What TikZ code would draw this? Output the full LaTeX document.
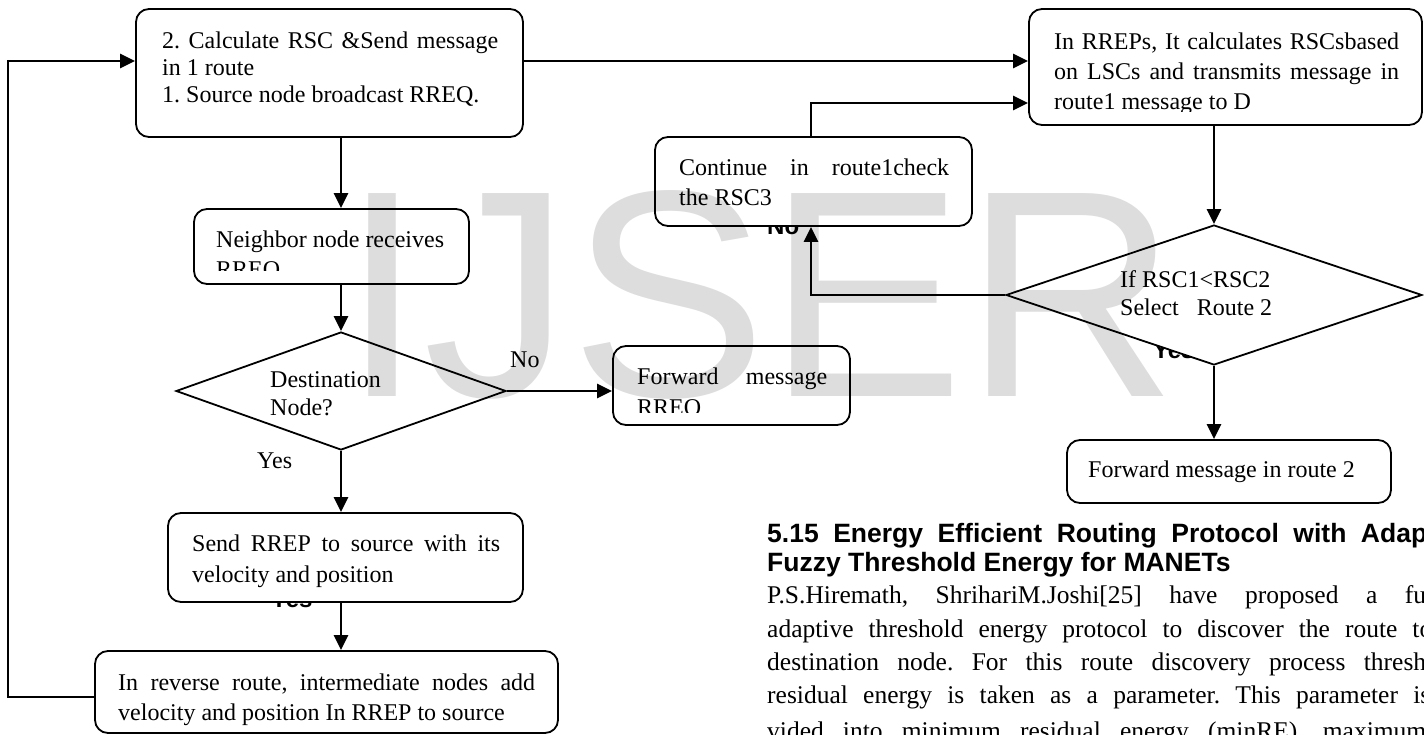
\documentclass[tikz,border=0pt]{standalone}
\usepackage{fontspec}
\setmainfont{Liberation Serif}
\newfontfamily\hsans{Liberation Sans}
\usetikzlibrary{arrows.meta,shapes.geometric}
\frenchspacing
\tikzset{
  box/.style={draw, line width=1.8pt, rounded corners=13pt, fill=white, inner sep=0pt, rectangle},
  dia/.style={draw, line width=1.8pt, fill=white, diamond, inner sep=0pt},
  conn/.style={line width=2.4pt, -{Triangle[length=15pt,width=14pt]}},
  txt/.style={anchor=base west, inner sep=0pt, font=\fontsize{24pt}{30pt}\selectfont},
  hid/.style={anchor=base west, inner sep=0pt, font=\hsans\bfseries\fontsize{24pt}{30pt}\selectfont},
  head/.style={anchor=base west, inner sep=0pt, font=\hsans\bfseries\fontsize{26.5pt}{32pt}\selectfont},
  para/.style={anchor=base west, inner sep=0pt, font=\fontsize{25.5pt}{33pt}\selectfont},
}
\begin{document}
\begin{tikzpicture}[x=1pt,y=-1pt]
\useasboundingbox (0,0) rectangle (1424,735);
\fill[white] (0,0) rectangle (1424,735);

% labels partly hidden behind shapes
\node[hid] (hn) at (767,235) {No};
\node[hid] (hy1) at (271,607) {Yes};
\node[hid] (hy2) at (1153,358) {Yes};

% boxes
\node[box, minimum width=387pt, minimum height=128pt] (A) at (329.5,73) {};
\node[box, minimum width=275pt, minimum height=75pt] (N) at (331.5,246.5) {};
\node[box, minimum width=237pt, minimum height=79pt] (F) at (731.5,385.5) {};
\node[box, minimum width=355pt, minimum height=89pt] (S) at (345.5,557.5) {};
\node[box, minimum width=463pt, minimum height=82pt] (Bot) at (326.5,692) {};
\node[box, minimum width=393pt, minimum height=116pt] (B) at (1225.5,67) {};
\node[box, minimum width=317pt, minimum height=89pt] (C) at (813.5,181.5) {};
\node[box, minimum width=324pt, minimum height=63pt] (R2) at (1229,471.5) {};
\node[dia, minimum width=330pt, minimum height=118pt] (D1) at (341,391) {};
\node[dia, minimum width=416pt, minimum height=140pt] (D2) at (1214,295) {};

% helper coordinates
\coordinate (ya) at (0,61);
\coordinate (yb) at (0,103);
\coordinate (fbL) at (8,697);
\coordinate (cx) at (811,0);

% connectors
\draw[conn] (Bot.west |- fbL) -- (fbL) |- (A.west |- ya);
\draw[conn] (A.east |- ya) -- (B.west |- ya);
\draw[conn] (A.south -| D1.north) -- (N.north -| D1.north);
\draw[conn] (N.south -| D1.north) -- (D1.north);
\draw[conn] (D1.east) -- (F.west |- D1.east);
\draw[conn] (D1.south) -- (S.north -| D1.south);
\draw[conn] (S.south -| D1.south) -- (Bot.north -| D1.south);
\draw[conn] (B.south -| D2.north) -- (D2.north);
\draw[conn] (D2.west) -| (C.south -| cx);
\draw[conn] (C.north -| cx) |- (B.west |- yb);
\draw[conn] (D2.south) -- (R2.north -| D2.south);

% texts
\node[txt] (a1) at (162,49) {\makebox[336pt][s]{2. Calculate RSC \&Send message}};
\node[txt] (a2) at (162,76) {in 1 route};
\node[txt] (a3) at (162,103) {1. Source node broadcast RREQ.};

\node[txt] (n1) at (216,248) {Neighbor node receives};
\begin{scope}
  \clip (194,209) rectangle (469,271);
  \node[txt] (n2) at (216,278) {RREQ};
\end{scope}

\node[txt] (d1a) at (270,387) {Destination};
\node[txt] (d1b) at (270,415) {Node?};
\node[txt] (lno) at (510,367) {No};
\node[txt] (lyes) at (257,468) {Yes};

\node[txt] (f1) at (637,384) {\makebox[190pt][s]{Forward message}};
\begin{scope}
  \clip (613,346) rectangle (850,412);
  \node[txt] (f2) at (637,415) {RREQ};
\end{scope}

\node[txt] (s1) at (192,551) {\makebox[308pt][s]{Send RREP to source with its}};
\node[txt] (s2) at (192,582) {velocity and position};

\node[txt] (b1) at (118,690) {\makebox[417pt][s]{In reverse route, intermediate nodes add}};
\node[txt] (b2) at (118,720) {velocity and position In RREP to source};

\node[txt] (bb1) at (1054,50) {\makebox[345pt][s]{In RREPs, It calculates RSCsbased}};
\node[txt] (bb2) at (1054,80) {\makebox[345pt][s]{on LSCs and transmits message in}};
\begin{scope}
  \clip (1029,9) rectangle (1422,112);
  \node[txt] (bb3) at (1054,110) {route1 message to D};
\end{scope}

\node[txt] (c1) at (679,176) {\makebox[270pt][s]{Continue in route1check}};
\node[txt] (c2) at (679,206) {the RSC3};

\node[txt] (d2a) at (1120,288) {If RSC1<RSC2};
\node[txt] (d2b) at (1120,316) {Select~~~Route 2};

\node[txt] (r2t) at (1088,477) {Forward message in route 2};

% page text beside the figure
\begin{scope}
  \clip (0,0) rectangle (1424,735);
  \node[head] (h1) at (767,542) {\makebox[660pt][s]{5.15 Energy Efficient Routing Protocol with Adap}};
  \node[head] (h2) at (767,571) {Fuzzy Threshold Energy for MANETs};
  \node[para] (p1) at (767,603) {\makebox[659pt][s]{P.S.Hiremath, ShrihariM.Joshi[25] have proposed a fu}};
  \node[para] (p2) at (767,637) {\makebox[665pt][s]{adaptive threshold energy protocol to discover the route to}};
  \node[para] (p3) at (767,670) {\makebox[659pt][s]{destination node. For this route discovery process thresh}};
  \node[para] (p4) at (767,703) {\makebox[663pt][s]{residual energy is taken as a parameter. This parameter is}};
  \node[para] (p5) at (767,739) {\makebox[659pt][s]{vided into minimum residual energy (minRE), maximum}};
\end{scope}

% watermark
\node[anchor=base west, inner sep=0pt, font=\hsans\fontsize{295pt}{295pt}\selectfont, text=black, text opacity=0.135] (wm) at (341,396) {IJSER};
\end{tikzpicture}
\end{document}
